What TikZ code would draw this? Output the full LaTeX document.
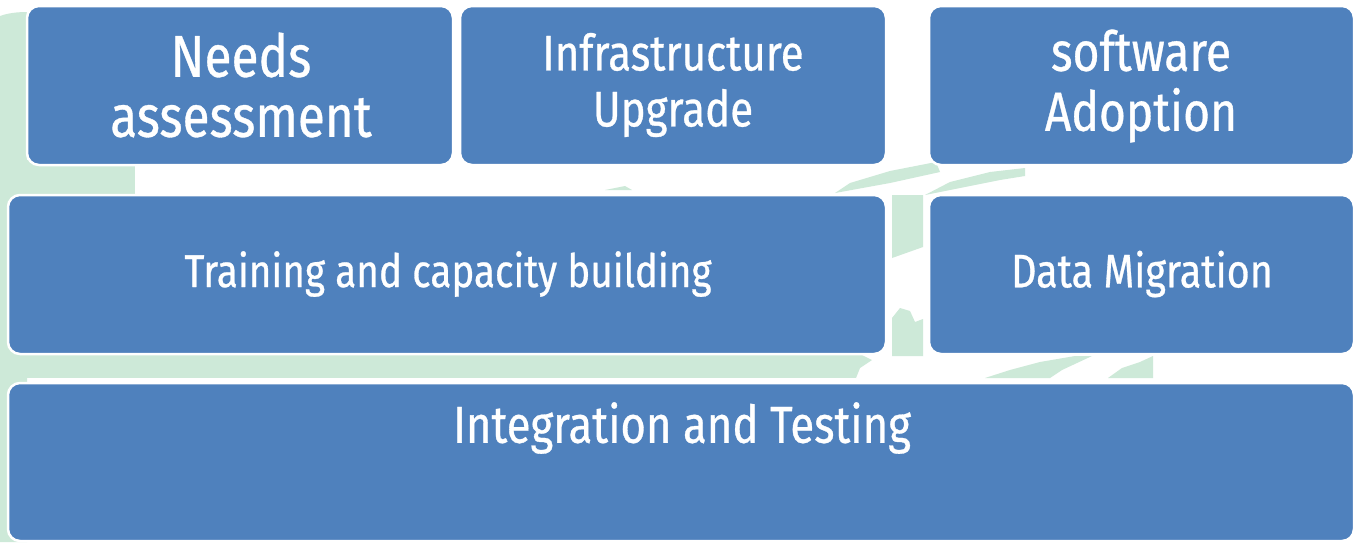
\documentclass[tikz,border=0pt]{standalone}
\usepackage{fontspec}
\setmainfont{Fira Sans}[FakeStretch=0.84, FakeBold=0.6]
\definecolor{boxblue}{HTML}{4F81BD}
\definecolor{bggreen}{HTML}{CDE9D8}
\tikzset{
  blk/.style={draw=white, line width=2.5pt, fill=boxblue, rounded corners=12pt},
  lbl/.style={text=white, align=center, inner sep=0pt},
  bg/.style={fill=bggreen, draw=none}
}
\begin{document}
\begin{tikzpicture}[x=1pt, y=-1pt]
\useasboundingbox (0,0) rectangle (1360,542);
\fill[white] (0,0) rectangle (1360,542);
% background picture (light green)
\fill[bg] (0,16) .. controls (8,13) and (18,12) .. (27,12) -- (27,542) -- (0,542) -- cycle;
\fill[bg] (0,160) rectangle (135,196);
\fill[bg] (0,352) rectangle (856,378);
\fill[bg] (856,378) -- (860,368) -- (872,360) -- (856,352) -- cycle;
\fill[bg] (985,378) -- (1010,370) -- (1040,362) -- (1075,356) -- (1092,356) -- (1062,370) -- (1050,378) -- cycle;
\fill[bg] (1108,378) -- (1122,368) -- (1140,362) -- (1153,356) -- (1153,378) -- cycle;
\fill[bg] (892,195) -- (923,195) -- (923,247) -- (892,258) -- cycle;
\fill[bg] (892,318) -- (900,308) -- (910,311) -- (915,322) -- (923,319) -- (923,356) -- (892,356) -- cycle;
\fill[bg] (835,193) -- (890,183) -- (940,172) -- (936,162) -- (890,171) -- (850,183) -- cycle;
\fill[bg] (925,195) -- (960,188) -- (1000,180) -- (1025,176) -- (1025,168) -- (990,172) -- (950,182) -- cycle;
\fill[bg] (605,190) -- (625,186) -- (632,190) -- cycle;
% boxes
\draw[blk] (27,6) rectangle (453,165);
\node[lbl, font=\fontsize{59}{60}\selectfont] (needs) at (241,85) {Needs\\assessment};
\draw[blk] (460,6) rectangle (886,165);
\node[lbl, font=\fontsize{50}{56}\selectfont] (infra) at (673,85) {Infrastructure\\Upgrade};
\draw[blk] (929,6) rectangle (1354,165);
\node[lbl, font=\fontsize{55}{60}\selectfont] (soft) at (1141,86) {software\\Adoption};
\draw[blk] (8,195) rectangle (886,354);
\node[lbl, font=\fontsize{46}{50}\selectfont] (train) at (448,274) {Training and capacity building};
\draw[blk] (929,195) rectangle (1354,354);
\node[lbl, font=\fontsize{47}{50}\selectfont] (data) at (1142,274) {Data Migration};
\draw[blk] (8,383) rectangle (1354,541);
\node[lbl, font=\fontsize{52}{56}\selectfont] (integ) at (682,428) {Integration and Testing};
\end{tikzpicture}
\end{document}
